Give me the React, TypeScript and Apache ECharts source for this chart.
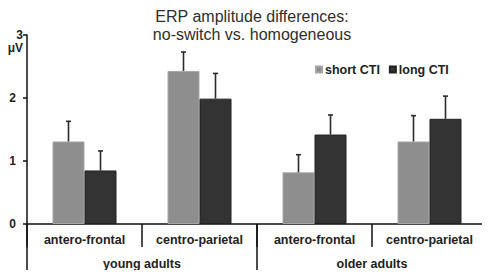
import React, { useEffect, useRef } from "react";
import * as echarts from "echarts";

const categories = ["antero-frontal", "centro-parietal", "antero-frontal", "centro-parietal"];
const groups = ["young adults", "older adults"];
const seriesNames = ["short CTI", "long CTI"];
const shortCTI = [1.31, 2.43, 0.82, 1.31];
const longCTI = [0.85, 1.99, 1.42, 1.67];
const shortErr = [0.32, 0.30, 0.28, 0.41];
const longErr = [0.31, 0.40, 0.31, 0.36];
const yTicks = [0, 1, 2, 3];

const FONT = "Liberation Sans, Arial, sans-serif";
const SHORT_COLOR = "#8e8e8e";
const LONG_COLOR = "#333333";

function errorSeries(values: number[], errs: number[], offset: number) {
  return {
    type: "custom",
    silent: true,
    z: 5,
    data: values.map((v, i) => [i, v, v + errs[i]]),
    renderItem: (params: any, api: any) => {
      const x = api.value(0);
      const base = api.coord([x, api.value(1)]);
      const top = api.coord([x, api.value(2)]);
      const cx = base[0] + offset;
      return {
        type: "group",
        children: [
          {
            type: "line",
            shape: { x1: cx, y1: base[1], x2: cx, y2: top[1] },
            style: { stroke: "#2a2a2a", lineWidth: 1.6 },
          },
          {
            type: "line",
            shape: { x1: cx - 2.5, y1: top[1], x2: cx + 2.5, y2: top[1] },
            style: { stroke: "#2a2a2a", lineWidth: 1.6 },
          },
        ],
      };
    },
  };
}

export default function App() {
  const ref = useRef<HTMLDivElement>(null);
  useEffect(() => {
    if (!ref.current) return;
    const chart = echarts.init(ref.current, null, { renderer: "svg" });
    chart.setOption({
      animation: false,
      backgroundColor: "#ffffff",
      title: {
        text: "ERP amplitude differences:\nno-switch vs. homogeneous",
        left: 247,
        textAlign: "center",
        top: 2,
        textStyle: {
          fontFamily: FONT,
          fontSize: 16,
          fontWeight: "normal",
          color: "#2e2e2e",
          lineHeight: 18,
        },
      },
      legend: {
        data: seriesNames,
        left: 310,
        top: 58,
        icon: "rect",
        itemWidth: 6,
        itemHeight: 6,
        itemGap: 9,
        textStyle: { fontFamily: FONT, fontSize: 12.5, fontWeight: "bold", color: "#222222", padding: [0, 0, 0, -2] },
      },
      grid: { left: 27, right: 3, top: 35, bottom: 54, containLabel: false },
      xAxis: [
        {
          type: "category",
          data: categories,
          boundaryGap: true,
          axisLine: { show: true, lineStyle: { color: "#111111", width: 1.5 } },
          axisTick: { show: true, length: 23, lineStyle: { color: "#111111", width: 1.5 } },
          axisLabel: { margin: 9, fontFamily: FONT, fontSize: 12.5, fontWeight: "bold", color: "#222222" },
          splitLine: { show: false },
        },
        {
          type: "category",
          data: groups,
          position: "bottom",
          boundaryGap: true,
          axisLine: { show: false },
          axisTick: { show: true, length: 46, lineStyle: { color: "#111111", width: 1.5 } },
          axisLabel: { margin: 33, fontFamily: FONT, fontSize: 12.5, fontWeight: "bold", color: "#222222" },
          splitLine: { show: false },
        },
      ],
      yAxis: {
        type: "value",
        min: yTicks[0],
        max: yTicks[yTicks.length - 1],
        interval: 1,
        name: "μV",
        nameLocation: "end",
        nameGap: -13,
        nameTextStyle: {
          fontFamily: FONT,
          fontSize: 12,
          fontWeight: "bold",
          color: "#222222",
          align: "right",
          verticalAlign: "middle",
          padding: [0, 4, 0, 0],
        },
        axisLine: { show: true, lineStyle: { color: "#111111", width: 1.5 } },
        axisTick: { show: true, length: 4, lineStyle: { color: "#111111", width: 1.5 } },
        splitLine: { show: false },
        axisLabel: {
          margin: 3,
          fontFamily: FONT,
          fontSize: 12,
          fontWeight: "bold",
          color: "#222222",
          formatter: (v: number) => (v === 3 ? "{t|3}" : "{n|" + v + "}"),
          rich: {
            t: { fontFamily: FONT, fontSize: 12, fontWeight: "bold", color: "#222222", padding: [0, 1, 0, 0] },
            n: { fontFamily: FONT, fontSize: 12, fontWeight: "bold", color: "#222222", padding: [0, 8, 0, 0] },
          },
        },
      },
      series: [
        {
          name: seriesNames[0],
          type: "bar",
          data: shortCTI,
          barWidth: 32,
          barGap: "0%",
          itemStyle: { color: SHORT_COLOR, borderColor: "#a6a6a6", borderWidth: 1 },
        },
        {
          name: seriesNames[1],
          type: "bar",
          data: longCTI,
          barWidth: 32,
          barGap: "0%",
          itemStyle: { color: LONG_COLOR, borderColor: "#222222", borderWidth: 1 },
        },
        errorSeries(shortCTI, shortErr, -16),
        errorSeries(longCTI, longErr, 16),
      ],
    });
    return () => chart.dispose();
  }, []);
  return <div ref={ref} style={{ width: 490, height: 278, margin: -8 }} />;
}
